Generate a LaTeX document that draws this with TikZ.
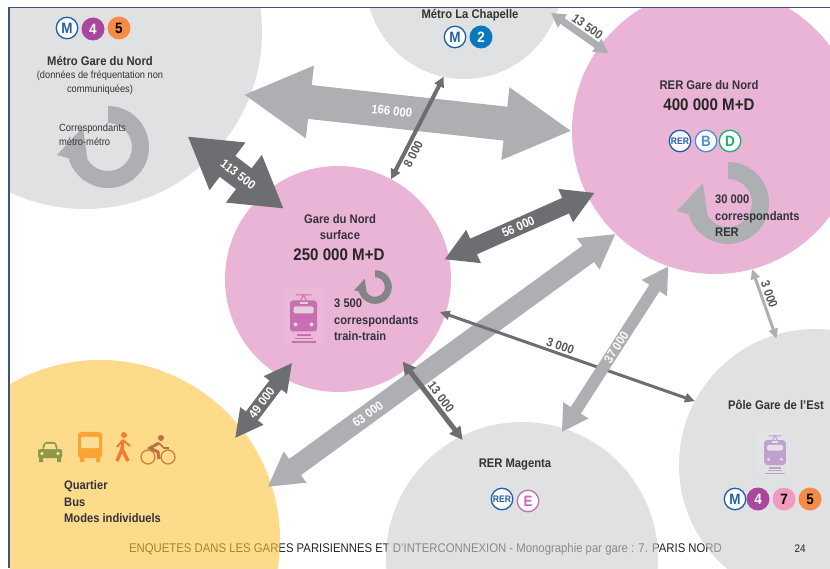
\documentclass[tikz,border=0pt]{standalone}
\usepackage{fontspec}
\setmainfont[FakeStretch=0.9]{Liberation Sans}
\usetikzlibrary{arrows.meta}
\definecolor{pinkzone}{HTML}{E9B4D5}
\definecolor{grayzone}{HTML}{CBCDD0}
\definecolor{yellowzone}{HTML}{FCC33F}
\definecolor{darkflow}{HTML}{6D6E71}
\definecolor{lightflow}{HTML}{AEAFB2}
\definecolor{framecol}{HTML}{3F5570}
\definecolor{inktext}{HTML}{333338}
\definecolor{lineM}{HTML}{1F5FA8}
\definecolor{lineB}{HTML}{4C90CD}
\definecolor{lineD}{HTML}{1FAE6A}
\definecolor{lineE}{HTML}{C76FB0}
\definecolor{line2}{HTML}{0A78BD}
\definecolor{line4}{HTML}{A9479E}
\definecolor{line5}{HTML}{F58B45}
\definecolor{line7}{HTML}{F19AC0}
\definecolor{trainest}{HTML}{BFA2CB}
\definecolor{carcol}{HTML}{8A9A48}
\definecolor{buscol}{HTML}{F9A535}
\definecolor{walkcol}{HTML}{EF7D2C}
\definecolor{bikecol}{HTML}{C0703C}
\tikzset{
  zone/.style={circle, inner sep=0pt, outer sep=0pt, minimum size=#1},
  pinkdisc/.style={zone=#1, fill=pinkzone},
  graydisc/.style={zone=#1, fill=grayzone, fill opacity=.6},
  yellowdisc/.style={zone=#1, fill=yellowzone, fill opacity=.6},
  flow/.style n args={3}{line width=#1pt, arrows={Triangle[length=#2pt,width=#3pt]-Triangle[length=#2pt,width=#3pt]}},
  whitelab/.style={sloped, text=white, inner sep=0pt, font=\fontsize{12.5}{14}\selectfont\bfseries},
  graylab/.style={sloped, text=darkflow!80!black, inner sep=2pt, font=\fontsize{12.5}{14}\selectfont\bfseries},
  title/.style={text=inktext, inner sep=0pt, align=center, font=\fontsize{12.5}{16}\selectfont\bfseries},
  figure/.style={text=black!85, inner sep=0pt, align=center, font=\fontsize{16.8}{18}\selectfont\bfseries},
  note/.style={text=inktext, inner sep=0pt, align=left, anchor=west, font=\fontsize{12.4}{16.5}\selectfont\bfseries},
  small/.style={text=inktext, inner sep=0pt, align=center, font=\fontsize{10.3}{14}\selectfont},
  badge/.style={circle, draw=#1, line width=1.3pt, fill=white, text=#1, inner sep=0pt, minimum size=21.5pt, font=\fontsize{15}{15}\selectfont\bfseries},
  rerbadge/.style={badge=lineM, font=\fontsize{9.5}{10}\selectfont\bfseries},
  plain/.style args={#1/#2}{circle, fill=#1, text=#2, inner sep=0pt, minimum size=23pt, font=\fontsize{15}{15}\selectfont\bfseries},
  ringarrow/.pic={
    \fill (0,41) arc (90:-172:41) -- (-172:24) arc (-172:90:24) -- cycle;
    \fill (-51,-8) -- (-25,20) -- (-20,-17) -- cycle;
  },
  trainicon/.pic={
    \fill[white, fill opacity=.08] (-21,-27) rectangle (20,28);
    \fill[#1, rounded corners=3pt] (-13.5,-15) rectangle (13.5,16);
    \fill[#1!35!white, rounded corners=1.5pt] (-10,3) rectangle (10,10);
    \fill[#1!35!white] (-4,12) rectangle (4,14.5);
    \fill[#1!35!white] (-8,-8) circle (2) (8,-8) circle (2);
    \draw[#1, line width=1pt] (-8,21.5) -- (8,21.5) (-3,16) -- (0,21.5) -- (3,16);
    \draw[#1, line width=1.6pt] (-7,-18.5) -- (7,-18.5) (-9,-22) -- (9,-22) (-12,-25.5) -- (12,-25.5);
  },
}
\begin{document}
\begin{tikzpicture}[x=1pt,y=1pt]
\useasboundingbox (0,0) rectangle (830,568);
\fill[white] (0,0) rectangle (830,568);
% footer lies under the zones
\node[text=black!85, inner sep=0pt, font=\fontsize{12.6}{14}\selectfont] (footer) at (425.5,19) {ENQUETES DANS LES GARES PARISIENNES ET D'INTERCONNEXION - Monographie par gare : 7. PARIS NORD};
\begin{scope}
\clip (10,0) rectangle (830,560);
\node[graydisc=354pt] (metro) at (85,536) {};
\node[graydisc=196pt] (chapelle) at (464,587) {};
\node[graydisc=272pt] (magenta) at (522,10) {};
\node[graydisc=272pt] (est) at (815,103) {};
\node[yellowdisc=360pt] (quartier) at (100,28) {};
\node[pinkdisc=286pt] (rer) at (715,437) {};
\node[pinkdisc=226pt] (surface) at (338,289) {};
\end{scope}
\draw[framecol, line width=1.5pt] (9,0) -- (9,560.5) -- (830,560.5);
% flows
\draw[flow={34}{67}{68}, lightflow, shorten <=-7pt] (metro.-21.9) -- node[whitelab, pos=.44] {166 000} (rer.180);
\draw[flow={26}{50}{56}, darkflow, shorten <=-31pt, shorten >=-25pt] (metro.-44.3) -- node[whitelab] {113 500} (surface.131.4);
\draw[flow={7}{14}{15}, lightflow, shorten <=-5.5pt, shorten >=-11pt] (chapelle.-21) -- node[graylab, above, pos=.6] {13 500} (rer.144.3);
\draw[flow={4}{10}{10}, darkflow] (chapelle.-102.6) -- node[graylab, below, pos=.72] {8 000} (surface.62.8);
\draw[flow={17}{32}{34}, darkflow, shorten <=-5pt, shorten >=-8pt] (surface.11.7) -- node[whitelab] {56 000} (rer.207.1);
\draw[flow={20}{34}{36}, lightflow, shorten <=-4.5pt] (quartier.18) -- node[whitelab, pos=.28] {63 000} (rer.-134.7);
\draw[flow={15}{28}{27}, darkflow, shorten <=-11.4pt, shorten >=-17.8pt] (quartier.38.5) -- node[whitelab] {49 000} (surface.-120.7);
\draw[flow={5}{13}{13}, darkflow, shorten <=-8.2pt, shorten >=-4pt] (surface.-52.4) -- node[graylab, above] {13 000} (magenta.117.2);
\draw[flow={3}{10}{9}, darkflow, shorten <=-6pt] (surface.-18) -- node[graylab, above, pos=.45] {3 000} (est.152.5);
\draw[flow={12}{26}{28}, lightflow, shorten <=-4.2pt] (magenta.72.3) -- node[whitelab] {37 000} (rer.-109.2);
\draw[flow={3}{10}{9}, lightflow, shorten >=-4pt] (rer.-75.9) -- node[graylab, above, pos=.42] {3 000} (est.107.7);
% rings
\pic[fill=lightflow] at (108,421) {ringarrow};
\pic[fill=lightflow] at (728,365) {ringarrow};
\pic[fill=darkflow!85!white, scale=.41] at (375,281) {ringarrow};
% train icons
\pic at (303.5,251.5) {trainicon=lineE};
\pic[scale=.8] at (775,115) {trainicon=trainest};
% metro Gare du Nord
\node[badge=lineM] (mA) at (67,540) {M};
\node[plain=line4/white] (mB) at (93,539) {4};
\node[plain=line5/black] (mC) at (119,540) {5};
\node[title] (metroT) at (100,507) {Métro Gare du Nord};
\node[small] (metroN) at (100,485) {(données de fréquentation non\\communiquées)};
\node[note, font=\fontsize{10.4}{14}\selectfont] (metroC) at (59,433) {Correspondants\\métro-métro};
% La Chapelle
\node[title] (chapT) at (470,553) {Métro La Chapelle};
\node[badge=lineM] (cA) at (455,531) {M};
\node[plain=line2/white] (cB) at (481,531) {2};
% RER
\node[title] (rerT) at (709,483) {RER Gare du Nord};
\node[figure] (rerF) at (709,463) {400 000 M+D};
\node[rerbadge] (rA) at (680,427) {RER};
\node[badge=lineB] (rB) at (706,427) {B};
\node[badge=lineD] (rC) at (730,427) {D};
\node[note] (rerC) at (715,352) {30 000\\correspondants\\RER};
% surface
\node[title] (surfT) at (340,341) {Gare du Nord\\surface};
\node[figure] (surfF) at (339,313) {250 000 M+D};
\node[note] (surfC) at (334,248) {3 500\\correspondants\\train-train};
% quartier
\node[note] (quartC) at (64,66) {Quartier\\Bus\\Modes individuels};
\begin{scope}[shift={(50,116)}]
  \fill[carcol, rounded corners=2pt] (-12,-6) rectangle (12,3);
  \fill[carcol, rounded corners=2pt] (-8,2) -- (-6,10) -- (6,10) -- (8,2) -- cycle;
  \fill[yellowzone!55!white] (-6,3) -- (-4.5,8) -- (4.5,8) -- (6,3) -- cycle;
  \fill[carcol] (-11,-10) rectangle (-7,-5) (7,-10) rectangle (11,-5);
  \fill[yellowzone!55!white] (-8,-1.5) circle (1.8) (8,-1.5) circle (1.8);
\end{scope}
\begin{scope}[shift={(90,121)}]
  \fill[buscol, rounded corners=3pt] (-12,-11) rectangle (12,15);
  \fill[yellowzone!55!white, rounded corners=1pt] (-9,-1) rectangle (9,10);
  \fill[buscol] (-10,-15) rectangle (-6,-10) (6,-15) rectangle (10,-10);
\end{scope}
\begin{scope}[shift={(123,121)}]
  \fill[walkcol] (1,12) circle (3);
  \draw[walkcol, line width=3.4pt] (0,7) -- (-1,-2) -- (5,-14) (-1,-2) -- (-6,-14);
  \draw[walkcol, line width=2pt] (0,7) -- (-6,0) (0,7) -- (7,1);
\end{scope}
\begin{scope}[shift={(158,111)}]
  \draw[bikecol!85!yellowzone, line width=1.2pt] (-10,0) circle (7) (10,0) circle (7);
  \fill[bikecol] (3,19) circle (3);
  \draw[bikecol, line width=3pt] (1,14) -- (-8,9) -- (0,5) -- (1,-2);
  \draw[bikecol, line width=1.6pt] (1,14) -- (6,9) -- (11,9);
\end{scope}
% pole Est and Magenta
\node[title] (estT) at (776,163) {Pôle Gare de l'Est};
\node[badge=lineM] (eA) at (735,69) {M};
\node[plain=line4/white] (eB) at (758,69) {4};
\node[plain=line7/black] (eC) at (784,69) {7};
\node[plain=line5/black] (eD) at (810,69) {5};
\node[title] (magT) at (515,103) {RER Magenta};
\node[rerbadge] (gA) at (502,69) {RER};
\node[badge=lineE] (gB) at (528,67) {E};
\node[text=black!85, inner sep=0pt, font=\fontsize{11}{12}\selectfont] (page) at (800,19) {24};
\end{tikzpicture}
\end{document}
